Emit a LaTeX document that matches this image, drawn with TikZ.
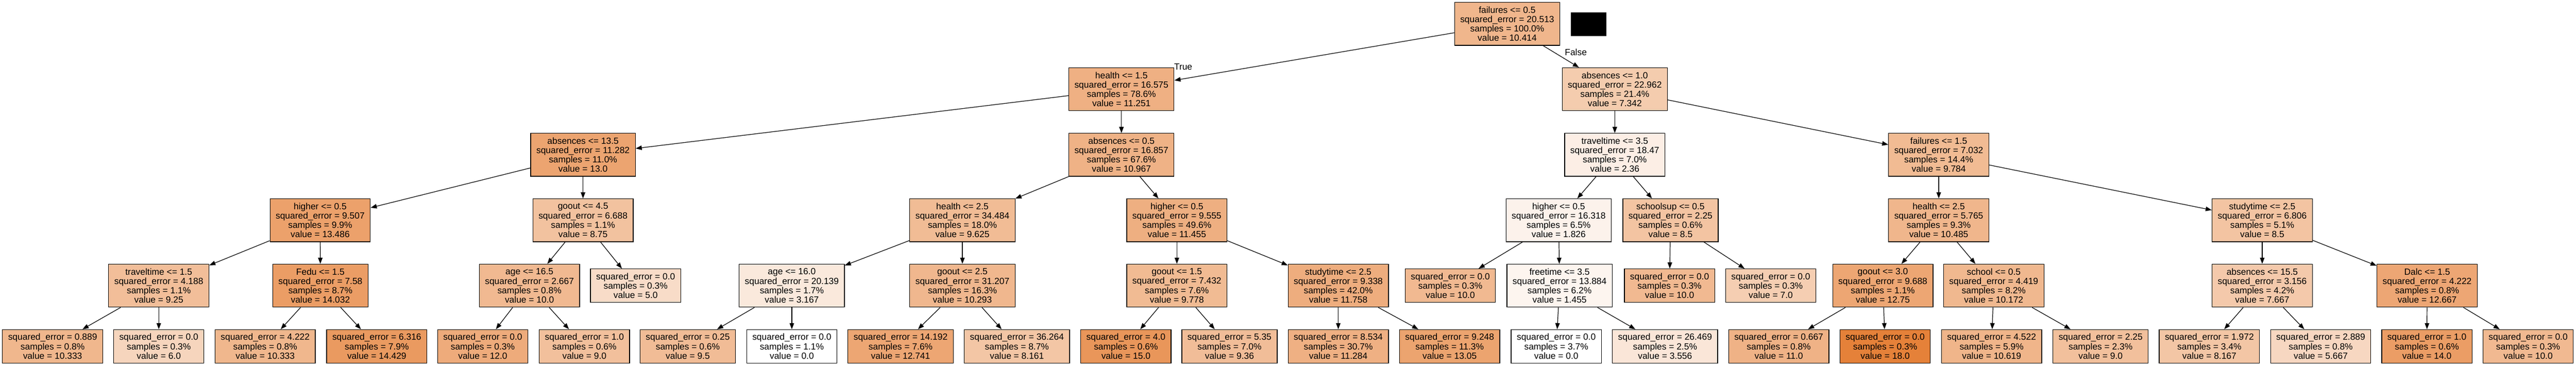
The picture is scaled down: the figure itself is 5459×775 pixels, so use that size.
\documentclass[tikz,border=0pt]{standalone}
\usepackage{fontspec}
\setmainfont{Liberation Sans}
\usetikzlibrary{arrows.meta}
\definecolor{tor}{RGB}{229,129,57}
\newcommand{\tnfont}{\fontsize{19bp}{19.8bp}\selectfont}
\tikzset{
  tn/.style={draw=black, line width=1.33bp, align=center, font=\tnfont,
             inner xsep=12bp, inner ysep=0bp, minimum height=91bp},
  lf/.style={tn, minimum height=71bp},
  fc/.style={fill=tor!#1!white},
  conn/.style={draw=black, line width=1.33bp, -{Triangle[length=13bp,width=9.5bp]}},
  elabel/.style={font=\tnfont, inner sep=0pt, anchor=base west}
}
\begin{document}
\begin{tikzpicture}[x=1bp,y=-1bp]
\fill[white] (0,0) rectangle (5459,775);
\useasboundingbox (0,0) rectangle (5459,775);

% level 0
\node[tn, fc=57.86] (n0) at (3194,50.5) {failures <= 0.5\\squared\_error = 20.513\\samples = 100.0\%\\value = 10.414};
\node[draw=black, fill=black, minimum width=74bp, minimum height=49bp, inner sep=0pt] (blk) at (3366,50.5) {};

% level 1
\node[tn, fc=62.51] (n1) at (2376.5,189) {health <= 1.5\\squared\_error = 16.575\\samples = 78.6\%\\value = 11.251};
\node[tn, fc=40.79] (n2) at (3422,189) {absences <= 1.0\\squared\_error = 22.962\\samples = 21.4\%\\value = 7.342};

% level 2
\node[tn, fc=72.22] (n3) at (1235.5,328) {absences <= 13.5\\squared\_error = 11.282\\samples = 11.0\%\\value = 13.0};
\node[tn, fc=60.93] (n4) at (2376.5,328) {absences <= 0.5\\squared\_error = 16.857\\samples = 67.6\%\\value = 10.967};
\node[tn, fc=13.11] (n5) at (3422,328) {traveltime <= 3.5\\squared\_error = 18.47\\samples = 7.0\%\\value = 2.36};
\node[tn, fc=54.36] (n6) at (4108.5,328) {failures <= 1.5\\squared\_error = 7.032\\samples = 14.4\%\\value = 9.784};

% level 3
\node[tn, fc=74.92] (n7) at (678.5,466.5) {higher <= 0.5\\squared\_error = 9.507\\samples = 9.9\%\\value = 13.486};
\node[tn, fc=48.61] (n8) at (1235.5,466.5) {goout <= 4.5\\squared\_error = 6.688\\samples = 1.1\%\\value = 8.75};
\node[tn, fc=53.47] (n9) at (2039.5,466.5) {health <= 2.5\\squared\_error = 34.484\\samples = 18.0\%\\value = 9.625};
\node[tn, fc=63.64] (n10) at (2494,466.5) {higher <= 0.5\\squared\_error = 9.555\\samples = 49.6\%\\value = 11.455};
\node[tn, fc=10.14] (n11) at (3303,466.5) {higher <= 0.5\\squared\_error = 16.318\\samples = 6.5\%\\value = 1.826};
\node[tn, fc=47.22] (n12) at (3540,466.5) {schoolsup <= 0.5\\squared\_error = 2.25\\samples = 0.6\%\\value = 8.5};
\node[tn, fc=58.25] (n13) at (4108.5,466.5) {health <= 2.5\\squared\_error = 5.765\\samples = 9.3\%\\value = 10.485};
\node[tn, fc=47.22] (n14) at (4794,466.5) {studytime <= 2.5\\squared\_error = 6.806\\samples = 5.1\%\\value = 8.5};

% level 4
\node[tn, fc=51.39] (n15) at (336.5,605) {traveltime <= 1.5\\squared\_error = 4.188\\samples = 1.1\%\\value = 9.25};
\node[tn, fc=77.96] (n16) at (679,605) {Fedu <= 1.5\\squared\_error = 7.58\\samples = 8.7\%\\value = 14.032};
\node[tn, fc=55.56] (n17) at (1122,605) {age <= 16.5\\squared\_error = 2.667\\samples = 0.8\%\\value = 10.0};
\node[lf, fc=27.78] (n18) at (1347,605) {squared\_error = 0.0\\samples = 0.3\%\\value = 5.0};
\node[tn, fc=17.59] (n19) at (1678,605) {age <= 16.0\\squared\_error = 20.139\\samples = 1.7\%\\value = 3.167};
\node[tn, fc=57.18] (n20) at (2039.5,605) {goout <= 2.5\\squared\_error = 31.207\\samples = 16.3\%\\value = 10.293};
\node[tn, fc=54.32] (n21) at (2494,605) {goout <= 1.5\\squared\_error = 7.432\\samples = 7.6\%\\value = 9.778};
\node[tn, fc=65.32] (n22) at (2836,605) {studytime <= 2.5\\squared\_error = 9.338\\samples = 42.0\%\\value = 11.758};
\node[lf, fc=55.56] (n23) at (3073.5,605) {squared\_error = 0.0\\samples = 0.3\%\\value = 10.0};
\node[tn, fc=8.08] (n24) at (3305,605) {freetime <= 3.5\\squared\_error = 13.884\\samples = 6.2\%\\value = 1.455};
\node[lf, fc=55.56] (n25) at (3538,605) {squared\_error = 0.0\\samples = 0.3\%\\value = 10.0};
\node[lf, fc=38.89] (n26) at (3752.5,605) {squared\_error = 0.0\\samples = 0.3\%\\value = 7.0};
\node[tn, fc=70.83] (n27) at (3990,605) {goout <= 3.0\\squared\_error = 9.688\\samples = 1.1\%\\value = 12.75};
\node[tn, fc=56.51] (n28) at (4225,605) {school <= 0.5\\squared\_error = 4.419\\samples = 8.2\%\\value = 10.172};
\node[tn, fc=42.59] (n29) at (4794,605) {absences <= 15.5\\squared\_error = 3.156\\samples = 4.2\%\\value = 7.667};
\node[tn, fc=70.37] (n30) at (5143.5,605) {Dalc <= 1.5\\squared\_error = 4.222\\samples = 0.8\%\\value = 12.667};

% level 5 (leaves)
\node[lf, fc=57.41] (l1) at (111.5,733.5) {squared\_error = 0.889\\samples = 0.8\%\\value = 10.333};
\node[lf, fc=33.33] (l2) at (336.5,733.5) {squared\_error = 0.0\\samples = 0.3\%\\value = 6.0};
\node[lf, fc=57.41] (l3) at (562,733.5) {squared\_error = 4.222\\samples = 0.8\%\\value = 10.333};
\node[lf, fc=80.16] (l4) at (798.5,733.5) {squared\_error = 6.316\\samples = 7.9\%\\value = 14.429};
\node[lf, fc=66.67] (l5) at (1023,733.5) {squared\_error = 0.0\\samples = 0.3\%\\value = 12.0};
\node[lf, fc=50] (l6) at (1238.5,733.5) {squared\_error = 1.0\\samples = 0.6\%\\value = 9.0};
\node[lf, fc=52.78] (l7) at (1457.5,733.5) {squared\_error = 0.25\\samples = 0.6\%\\value = 9.5};
\node[lf, fc=0] (l8) at (1678,733.5) {squared\_error = 0.0\\samples = 1.1\%\\value = 0.0};
\node[lf, fc=70.78] (l9) at (1908.5,733.5) {squared\_error = 14.192\\samples = 7.6\%\\value = 12.741};
\node[lf, fc=45.34] (l10) at (2155,733.5) {squared\_error = 36.264\\samples = 8.7\%\\value = 8.161};
\node[lf, fc=83.33] (l11) at (2386,733.5) {squared\_error = 4.0\\samples = 0.6\%\\value = 15.0};
\node[lf, fc=52] (l12) at (2605.5,733.5) {squared\_error = 5.35\\samples = 7.0\%\\value = 9.36};
\node[lf, fc=62.69] (l13) at (2836,733.5) {squared\_error = 8.534\\samples = 30.7\%\\value = 11.284};
\node[lf, fc=72.5] (l14) at (3072,733.5) {squared\_error = 9.248\\samples = 11.3\%\\value = 13.05};
\node[lf, fc=0] (l15) at (3298,733.5) {squared\_error = 0.0\\samples = 3.7\%\\value = 0.0};
\node[lf, fc=19.76] (l16) at (3528.5,733.5) {squared\_error = 26.469\\samples = 2.5\%\\value = 3.556};
\node[lf, fc=61.11] (l17) at (3769.5,733.5) {squared\_error = 0.667\\samples = 0.8\%\\value = 11.0};
\node[lf, fc=100] (l18) at (3995,733.5) {squared\_error = 0.0\\samples = 0.3\%\\value = 18.0};
\node[lf, fc=58.99] (l19) at (4220.5,733.5) {squared\_error = 4.522\\samples = 5.9\%\\value = 10.619};
\node[lf, fc=50] (l20) at (4451.5,733.5) {squared\_error = 2.25\\samples = 2.3\%\\value = 9.0};
\node[lf, fc=45.37] (l21) at (4682,733.5) {squared\_error = 1.972\\samples = 3.4\%\\value = 8.167};
\node[lf, fc=31.48] (l22) at (4918,733.5) {squared\_error = 2.889\\samples = 0.8\%\\value = 5.667};
\node[lf, fc=77.78] (l23) at (5143,733.5) {squared\_error = 1.0\\samples = 0.6\%\\value = 14.0};
\node[lf, fc=55.56] (l24) at (5357.5,733.5) {squared\_error = 0.0\\samples = 0.3\%\\value = 10.0};

% connectors
\draw[conn] (n0) -- (n1);
\draw[conn] (n0) -- (n2);
\node[elabel] (lblT) at (2488,148) {True};
\node[elabel] (lblF) at (3316,117) {False};
\draw[conn] (n1) -- (n3);
\draw[conn] (n1) -- (n4);
\draw[conn] (n2) -- (n5);
\draw[conn] (n2) -- (n6);
\draw[conn] (n3) -- (n7);
\draw[conn] (n3) -- (n8);
\draw[conn] (n4) -- (n9);
\draw[conn] (n4) -- (n10);
\draw[conn] (n5) -- (n11);
\draw[conn] (n5) -- (n12);
\draw[conn] (n6) -- (n13);
\draw[conn] (n6) -- (n14);
\draw[conn] (n7) -- (n15);
\draw[conn] (n7) -- (n16);
\draw[conn] (n8) -- (n17);
\draw[conn] (n8) -- (n18);
\draw[conn] (n9) -- (n19);
\draw[conn] (n9) -- (n20);
\draw[conn] (n10) -- (n21);
\draw[conn] (n10) -- (n22);
\draw[conn] (n11) -- (n23);
\draw[conn] (n11) -- (n24);
\draw[conn] (n12) -- (n25);
\draw[conn] (n12) -- (n26);
\draw[conn] (n13) -- (n27);
\draw[conn] (n13) -- (n28);
\draw[conn] (n14) -- (n29);
\draw[conn] (n14) -- (n30);
\draw[conn] (n15) -- (l1);
\draw[conn] (n15) -- (l2);
\draw[conn] (n16) -- (l3);
\draw[conn] (n16) -- (l4);
\draw[conn] (n17) -- (l5);
\draw[conn] (n17) -- (l6);
\draw[conn] (n19) -- (l7);
\draw[conn] (n19) -- (l8);
\draw[conn] (n20) -- (l9);
\draw[conn] (n20) -- (l10);
\draw[conn] (n21) -- (l11);
\draw[conn] (n21) -- (l12);
\draw[conn] (n22) -- (l13);
\draw[conn] (n22) -- (l14);
\draw[conn] (n24) -- (l15);
\draw[conn] (n24) -- (l16);
\draw[conn] (n27) -- (l17);
\draw[conn] (n27) -- (l18);
\draw[conn] (n28) -- (l19);
\draw[conn] (n28) -- (l20);
\draw[conn] (n29) -- (l21);
\draw[conn] (n29) -- (l22);
\draw[conn] (n30) -- (l23);
\draw[conn] (n30) -- (l24);
\end{tikzpicture}
\end{document}
